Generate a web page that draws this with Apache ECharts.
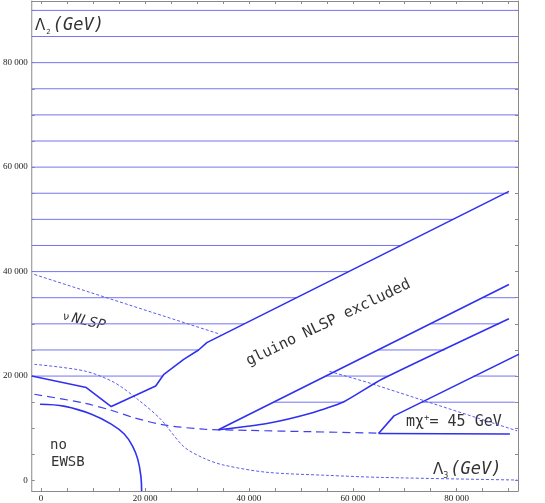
<!DOCTYPE html>
<html>
<head>
<meta charset="utf-8">
<script src="https://cdn.jsdelivr.net/npm/echarts@6/dist/echarts.min.js"></script>
<style>
html, body { margin: 0; padding: 0; background: #fff; }
#main { width: 545px; height: 503px; }
</style>
</head>
<body>
<div id="main"></div>
<script>
// tick values
let majorTicks = [0, 20000, 40000, 60000, 80000];
let minorTicks = [0, 5000, 10000, 15000, 20000, 25000, 30000, 35000, 40000, 45000,
    50000, 55000, 60000, 65000, 70000, 75000, 80000, 85000, 90000];

// Λ2 contours that run across the whole plot
let levelsFull = [60000, 65000, 70000, 75000, 80000, 85000, 90000];
// [level, xStart, xEnd] above the gluino wedge
let levelsUpper = [
    [20000, -1800, 23350], [25000, -1800, 30300], [30000, -1800, 39100],
    [35000, -1800, 49200], [40000, -1800, 59200], [45000, -1800, 69300],
    [50000, -1800, 79300], [55000, -1800, 90000]
];
// between the two lower boundaries
let levelsMiddle = [
    [15000, 44900, 58100], [20000, 54800, 66700], [25000, 64900, 77700],
    [30000, 74900, 88200], [35000, 85100, 91400]
];
// right of the chargino boundary
let levelsRight = [[15000, 73300, 91200], [20000, 83200, 91500]];

// solid boundaries
let wedgeTop = [[-1800, 20000], [8700, 17800], [13500, 14170], [22060, 18110], [23640, 20340],
    [27450, 23210], [30310, 24990], [31900, 26400], [90050, 55360]];
let wedgeBottom = [[34130, 9740], [90050, 37540]];
let thirdLine = [[34130, 9740], [43470, 10930], [52240, 12990], [58300, 15100],
    [65590, 19390], [90050, 30980]];
let charginoLine = [[64960, 9020], [67930, 12380], [92000, 24200]];
let charginoBase = [[64960, 9020], [90240, 8900]];
let ewsbLine = [[-200, 14600], [4600, 14200], [9700, 12700], [13500, 10800], [16000, 8900],
    [17600, 6600], [18600, 4100], [19200, 900], [19350, -2000]];

// dashed curves
let nuNlspA = [[-1300, 39450], [34500, 28000]];
let nuNlspB = [[55500, 20900], [62500, 18900], [91650, 9510]];
let dotCurve = [[-1300, 22250], [8400, 20970], [14100, 18760], [18550, 15570], [23000, 11750],
    [27450, 6500], [31270, 4300], [35000, 3000], [43300, 1600], [55000, 1000],
    [65600, 600], [91650, 100]];
let dashCurve = [[-1300, 16520], [8400, 14800], [13500, 13450], [18000, 12000], [23600, 10650],
    [31270, 9850], [40000, 9600], [52000, 9350], [65000, 9070]];

let thinBlue = '#7474f2';
let thickBlue = '#3030f0';
let axisGray = '#8a8a8a';

function fmt(v) {
    return String(v).replace(/\B(?=(\d{3})+(?!\d))/g, ' ');
}

function lineSeries(data, color, width, type, smooth) {
    return {
        type: 'line',
        data: data,
        showSymbol: false,
        symbol: 'none',
        smooth: smooth || false,
        silent: true,
        clip: true,
        lineStyle: { color: color, width: width, type: type || 'solid' }
    };
}

let series = [];
levelsFull.forEach(function (v) {
    series.push(lineSeries([[-1800, v], [91800, v]], thinBlue, 1));
});
levelsUpper.concat(levelsMiddle, levelsRight).forEach(function (s) {
    series.push(lineSeries([[s[1], s[0]], [s[2], s[0]]], thinBlue, 1));
});
series.push(lineSeries(nuNlspA, '#5a5af0', 1, [3, 2]));
series.push(lineSeries(nuNlspB, '#5a5af0', 1, [3, 2]));
series.push(lineSeries(dotCurve, '#5a5af0', 1, [3, 2], 0.3));
series.push(lineSeries(dashCurve, '#4040f0', 1.2, [8, 5], 0.3));
series.push(lineSeries(wedgeTop, thickBlue, 1.6));
series.push(lineSeries(wedgeBottom, thickBlue, 1.6));
series.push(lineSeries(thirdLine, thickBlue, 1.6, 'solid', 0.2));
series.push(lineSeries(charginoLine, thickBlue, 1.6));
series.push(lineSeries(charginoBase, thickBlue, 1.6));
series.push(lineSeries(ewsbLine, thickBlue, 1.6, 'solid', 0.4));

let labelFont = { fontFamily: 'Liberation Serif', fontSize: 9, color: '#222' };
let annFont = '"DejaVu Sans Mono"';

function axisBase(min, max, pos) {
    return {
        type: 'value', min: min, max: max, position: pos,
        axisLine: { show: true, onZero: false, lineStyle: { color: axisGray, width: 1 } },
        splitLine: { show: false },
        axisTick: { show: true, inside: true, length: 3, customValues: minorTicks, lineStyle: { color: axisGray } },
        axisLabel: { show: false }
    };
}

let xBottom = axisBase(-1800, 91800, 'bottom');
xBottom.axisLabel = Object.assign({ show: true, customValues: majorTicks, formatter: fmt, margin: 3 }, labelFont);
let yLeft = axisBase(-2000, 91800, 'left');
yLeft.axisLabel = Object.assign({ show: true, customValues: majorTicks, formatter: fmt, margin: 4 }, labelFont);

let myChart = echarts.init(document.getElementById('main'));
let option = {
    animation: false,
    grid: { left: 27, right: 27, top: 1, bottom: 11 },
    xAxis: [xBottom, axisBase(-1800, 91800, 'top')],
    yAxis: [yLeft, axisBase(-2000, 91800, 'right')],
    series: series,
    graphic: [
        {
            type: 'text', x: 35, y: 26,
            style: {
                text: '{a|Λ}{s|2}{b|(GeV)}', fill: '#333', verticalAlign: 'middle',
                rich: {
                    a: { fontFamily: 'DejaVu Sans', fontStyle: 'normal', fontSize: 15, fill: '#333', lineHeight: 20 },
                    s: { fontFamily: 'DejaVu Sans', fontStyle: 'normal', fontSize: 7, fill: '#333', lineHeight: 20, verticalAlign: 'bottom', padding: [0, 2, 0, 1] },
                    b: { fontFamily: annFont, fontStyle: 'italic', fontSize: 17, fill: '#333', lineHeight: 20 }
                }
            }
        },
        {
            type: 'text', x: 433, y: 470,
            style: {
                text: '{a|Λ}{s|3}{b|(GeV)}', fill: '#333', verticalAlign: 'middle',
                rich: {
                    a: { fontFamily: 'DejaVu Sans', fontStyle: 'normal', fontSize: 15, fill: '#333', lineHeight: 20 },
                    s: { fontFamily: 'DejaVu Sans', fontStyle: 'normal', fontSize: 8, fill: '#333', lineHeight: 20, verticalAlign: 'bottom', padding: [0, 2, 0, 0] },
                    b: { fontFamily: annFont, fontStyle: 'italic', fontSize: 17, fill: '#333', lineHeight: 20 }
                }
            }
        },
        {
            type: 'text', x: 63, y: 316, rotation: -0.24,
            style: {
                text: '{n|ν} {b|NLSP}', fill: '#333', verticalAlign: 'middle',
                rich: {
                    n: { fontFamily: 'DejaVu Sans', fontSize: 11, fill: '#333', lineHeight: 18, verticalAlign: 'bottom', padding: [0, 0, 3, 0] },
                    b: { fontFamily: annFont, fontStyle: 'italic', fontSize: 14, fill: '#333', lineHeight: 18 }
                }
            }
        },
        {
            type: 'text', x: 247, y: 362, rotation: 0.45,
            style: {
                text: 'gluino NLSP excluded', fill: '#333', verticalAlign: 'middle',
                font: '15px ' + annFont
            }
        },
        {
            type: 'text', x: 50, y: 445,
            style: { text: 'no', fill: '#333', verticalAlign: 'middle', font: '14px ' + annFont }
        },
        {
            type: 'text', x: 51, y: 462,
            style: { text: 'EWSB', fill: '#333', verticalAlign: 'middle', font: '14px ' + annFont }
        },
        {
            type: 'text', x: 406, y: 422,
            style: {
                text: '{m|mχ}{p|+}{m|= 45 GeV}', fill: '#333', verticalAlign: 'middle',
                rich: {
                    m: { fontFamily: annFont, fontSize: 15, fill: '#333', lineHeight: 18 },
                    p: { fontFamily: annFont, fontSize: 9, fill: '#333', lineHeight: 18, verticalAlign: 'top' }
                }
            }
        }
    ]
};
myChart.setOption(option);
</script>
</body>
</html>
